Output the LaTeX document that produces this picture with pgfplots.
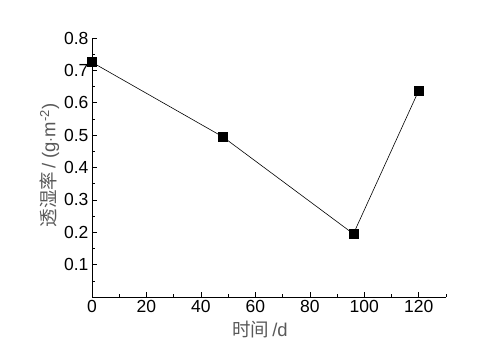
\documentclass[border=0pt]{standalone}
\usepackage{pgfplots}
\pgfplotsset{compat=1.18}
\usepackage{fontspec}
\setmainfont{Liberation Sans}
\newfontfamily\cjk{Noto Sans CJK SC}
\begin{document}
\begin{tikzpicture}
\path[use as bounding box] (-92bp,-59bp) rectangle (387bp,297bp);
\begin{axis}[
  at={(0,0)}, anchor=origin,
  scale only axis, width=354bp, height=259bp,
  xmin=0, xmax=130, ymin=0, ymax=0.8,
  axis lines=left, axis line style={-, line width=0.6pt},
  xtick={0,20,...,120}, minor xtick={10,30,...,130},
  ytick={0.1,0.2,...,0.8}, minor ytick={0.05,0.15,...,0.75},
  tick align=inside, major tick length=5bp, minor tick length=3bp,
  tick style={black, line width=0.6pt},
  /pgf/number format/assume math mode=true,
  yticklabel style={/pgf/number format/fixed, /pgf/number format/precision=1, /pgf/number format/fixed zerofill},
  ticklabel style={font=\fontsize{17.5bp}{19bp}\selectfont},
  xlabel={\cjk 时间\rmfamily\,/d},
  ylabel={\cjk 透湿率\rmfamily\,/ (g$\cdot$m\textsuperscript{-2})},
  label style={font=\fontsize{18.5bp}{20bp}\selectfont, text=black!65},
  xlabel style={yshift=-1bp, xshift=-9bp},
  ylabel style={yshift=-2bp, xshift=2bp},
]
\addplot[black, line width=0.6pt, mark=square*, mark size=4.5bp, mark options={solid}] coordinates {
(0,0.725) (48,0.495) (96,0.195) (120,0.638)
};
\end{axis}
\end{tikzpicture}
\end{document}
